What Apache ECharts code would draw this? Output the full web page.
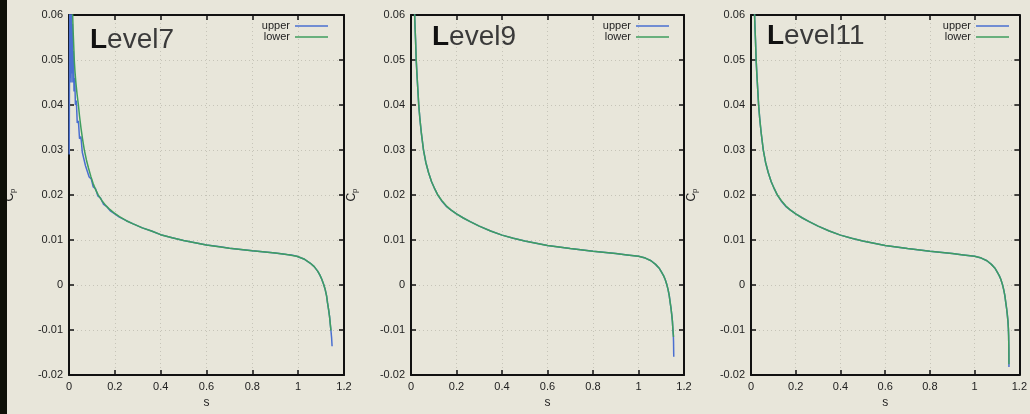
<!DOCTYPE html>
<html>
<head>
<meta charset="utf-8">
<script src="https://cdn.jsdelivr.net/npm/echarts@6/dist/echarts.min.js"></script>
<style>
  html, body { margin: 0; padding: 0; background: #e8e6da; }
  #strip { position: absolute; left: 0; top: 0; width: 7px; height: 414px; background: #0e1008; z-index: 2; }
  #chart { width: 1030px; height: 414px; }
</style>
</head>
<body>
<div id="strip"></div>
<div id="chart"></div>
<script>
// Pressure coefficient Cp along surface coordinate s, three refinement levels.
const panelNames = ['Level7', 'Level9', 'Level11'];
const xTicks = [0, 0.2, 0.4, 0.6, 0.8, 1, 1.2];
const yTicks = [-0.02, -0.01, 0, 0.01, 0.02, 0.03, 0.04, 0.05, 0.06];

const level7Upper = [
  [0.001, 0.029], [0.003, 0.062], [0.005, 0.046], [0.007, 0.065], [0.009, 0.045],
  [0.011, 0.062], [0.013, 0.047], [0.015, 0.058], [0.017, 0.045], [0.019, 0.052],
  [0.022, 0.043], [0.025, 0.046], [0.028, 0.040], [0.032, 0.041], [0.036, 0.036],
  [0.041, 0.0365], [0.046, 0.0325], [0.052, 0.0330], [0.058, 0.0295], [0.065, 0.0295],
  [0.072, 0.0265], [0.080, 0.0262], [0.088, 0.0240], [0.097, 0.0236], [0.106, 0.0218],
  [0.116, 0.0214], [0.126, 0.0198], [0.138, 0.0193], [0.150, 0.0180], [0.165, 0.0174],
  [0.180, 0.0165], [0.195, 0.0160], [0.22, 0.0151], [0.25, 0.0143], [0.28, 0.0136],
  [0.32, 0.0127], [0.36, 0.0120], [0.40, 0.0112], [0.45, 0.0105], [0.50, 0.0099],
  [0.55, 0.0094], [0.60, 0.0089], [0.66, 0.0085], [0.661, 0.0082], [0.70, 0.0082],
  [0.80, 0.0076], [0.90, 0.0071], [0.95, 0.0068], [0.97, 0.0067], [0.971, 0.0064],
  [0.994, 0.0064], [1.025, 0.0058], [1.052, 0.0049], [1.07, 0.0041], [1.085, 0.0031],
  [1.095, 0.0022], [1.103, 0.0013], [1.111, 0.0002], [1.118, -0.0010], [1.124, -0.0024],
  [1.128, -0.0039], [1.133, -0.0055], [1.137, -0.0070], [1.140, -0.0086],
  [1.143, -0.0101], [1.146, -0.0118], [1.148, -0.0136]
];
const level7Lower = [
  [0.010, 0.080], [0.016, 0.0600], [0.018, 0.0565], [0.020, 0.0540], [0.023, 0.0500],
  [0.026, 0.0475], [0.030, 0.0450], [0.035, 0.0425], [0.041, 0.0400], [0.046, 0.0375],
  [0.052, 0.0350], [0.059, 0.0325], [0.067, 0.0300], [0.076, 0.0278], [0.085, 0.0260],
  [0.095, 0.0242], [0.105, 0.0226], [0.116, 0.0212], [0.128, 0.0200], [0.143, 0.0188],
  [0.160, 0.0177], [0.178, 0.0168], [0.195, 0.0161], [0.22, 0.0152], [0.25, 0.0143],
  [0.28, 0.0136], [0.32, 0.0127], [0.36, 0.0120], [0.40, 0.0112], [0.45, 0.0105],
  [0.50, 0.0099], [0.55, 0.0094], [0.60, 0.0089], [0.70, 0.0082], [0.80, 0.0076],
  [0.90, 0.0071], [0.95, 0.0068], [0.994, 0.0064], [1.025, 0.0058], [1.052, 0.0049],
  [1.07, 0.0041], [1.085, 0.0031], [1.095, 0.0022], [1.103, 0.0013], [1.111, 0.0002],
  [1.118, -0.0010], [1.124, -0.0024], [1.128, -0.0039], [1.133, -0.0055],
  [1.137, -0.0070], [1.140, -0.0086], [1.143, -0.0101]
];
const level9Upper = [
  [0.010, 0.075], [0.016, 0.0600], [0.018, 0.0570], [0.020, 0.0545], [0.023, 0.0500],
  [0.026, 0.0470], [0.030, 0.0435], [0.034, 0.0400], [0.039, 0.0370], [0.045, 0.0340],
  [0.055, 0.0300], [0.065, 0.0273], [0.077, 0.0250], [0.090, 0.0230], [0.105, 0.0213],
  [0.118, 0.0200], [0.135, 0.0187], [0.155, 0.0175], [0.175, 0.0167], [0.200, 0.0158],
  [0.23, 0.0149], [0.26, 0.0141], [0.30, 0.0131], [0.35, 0.0120], [0.40, 0.0111],
  [0.45, 0.0104], [0.50, 0.0098], [0.55, 0.0093], [0.60, 0.0088], [0.70, 0.0081],
  [0.80, 0.0075], [0.90, 0.0070], [0.95, 0.0067], [1.00, 0.0064], [1.03, 0.0060],
  [1.055, 0.0054], [1.075, 0.0046], [1.09, 0.0038], [1.10, 0.0030], [1.11, 0.0021],
  [1.117, 0.0013], [1.124, 0.0002], [1.13, -0.0010], [1.135, -0.0023], [1.139, -0.0038],
  [1.143, -0.0052], [1.146, -0.0065], [1.149, -0.0080], [1.151, -0.0097],
  [1.153, -0.0110], [1.154, -0.0125], [1.155, -0.0159]
];
const level9Lower = [
  [0.010, 0.075], [0.016, 0.0600], [0.018, 0.0570], [0.020, 0.0545], [0.023, 0.0500],
  [0.026, 0.0470], [0.030, 0.0435], [0.034, 0.0400], [0.039, 0.0370], [0.045, 0.0340],
  [0.055, 0.0300], [0.065, 0.0273], [0.077, 0.0250], [0.090, 0.0230], [0.105, 0.0213],
  [0.118, 0.0200], [0.135, 0.0188], [0.155, 0.0176], [0.175, 0.0167], [0.200, 0.0158],
  [0.23, 0.0149], [0.26, 0.0141], [0.30, 0.0131], [0.35, 0.0120], [0.40, 0.0111],
  [0.45, 0.0104], [0.50, 0.0098], [0.55, 0.0093], [0.60, 0.0088], [0.70, 0.0081],
  [0.80, 0.0075], [0.90, 0.0070], [0.95, 0.0067], [1.00, 0.0064], [1.03, 0.0060],
  [1.055, 0.0054], [1.075, 0.0046], [1.09, 0.0038], [1.10, 0.0030], [1.11, 0.0021],
  [1.117, 0.0013], [1.124, 0.0002], [1.13, -0.0010], [1.135, -0.0023], [1.139, -0.0038],
  [1.143, -0.0052], [1.146, -0.0065], [1.149, -0.0080], [1.151, -0.0097],
  [1.153, -0.0110], [1.154, -0.0115]
];
const level11Upper = [
  [0.010, 0.075], [0.016, 0.0600], [0.018, 0.0570], [0.020, 0.0545], [0.023, 0.0500],
  [0.026, 0.0470], [0.030, 0.0435], [0.034, 0.0400], [0.039, 0.0370], [0.045, 0.0340],
  [0.055, 0.0300], [0.065, 0.0273], [0.077, 0.0250], [0.090, 0.0230], [0.105, 0.0213],
  [0.118, 0.0200], [0.135, 0.0187], [0.155, 0.0175], [0.175, 0.0167], [0.200, 0.0158],
  [0.23, 0.0149], [0.26, 0.0141], [0.30, 0.0131], [0.35, 0.0120], [0.40, 0.0111],
  [0.45, 0.0104], [0.50, 0.0098], [0.55, 0.0093], [0.60, 0.0088], [0.70, 0.0081],
  [0.80, 0.0075], [0.90, 0.0070], [0.95, 0.0067], [1.00, 0.0064], [1.03, 0.0060],
  [1.055, 0.0054], [1.075, 0.0046], [1.09, 0.0038], [1.10, 0.0030], [1.11, 0.0021],
  [1.117, 0.0013], [1.124, 0.0002], [1.13, -0.0010], [1.135, -0.0023], [1.139, -0.0038],
  [1.143, -0.0052], [1.146, -0.0065], [1.149, -0.0080], [1.151, -0.0097],
  [1.152, -0.0112], [1.153, -0.0140], [1.1535, -0.0182]
];
const level11Lower = [
  [0.010, 0.075], [0.016, 0.0600], [0.018, 0.0570], [0.020, 0.0545], [0.023, 0.0500],
  [0.026, 0.0470], [0.030, 0.0435], [0.034, 0.0400], [0.039, 0.0370], [0.045, 0.0340],
  [0.055, 0.0300], [0.065, 0.0273], [0.077, 0.0250], [0.090, 0.0230], [0.105, 0.0213],
  [0.118, 0.0200], [0.135, 0.0188], [0.155, 0.0176], [0.175, 0.0167], [0.200, 0.0158],
  [0.23, 0.0149], [0.26, 0.0141], [0.30, 0.0131], [0.35, 0.0120], [0.40, 0.0111],
  [0.45, 0.0104], [0.50, 0.0098], [0.55, 0.0093], [0.60, 0.0088], [0.70, 0.0081],
  [0.80, 0.0075], [0.90, 0.0070], [0.95, 0.0067], [1.00, 0.0064], [1.03, 0.0060],
  [1.055, 0.0054], [1.075, 0.0046], [1.09, 0.0038], [1.10, 0.0030], [1.11, 0.0021],
  [1.117, 0.0013], [1.124, 0.0002], [1.13, -0.0010], [1.135, -0.0023], [1.139, -0.0038],
  [1.143, -0.0052], [1.146, -0.0065], [1.149, -0.0080], [1.151, -0.0097],
  [1.152, -0.0112], [1.153, -0.0140], [1.1535, -0.0176]
];

const panelData = [
  [level7Upper, level7Lower],
  [level9Upper, level9Lower],
  [level11Upper, level11Lower]
];

const UPPER = '#4a6fd0';
const LOWER = '#3f9e5e';
const FONT = '"Liberation Sans", Arial, sans-serif';

// plot boxes in pixels: left, right edge
const boxes = [[69, 344], [411, 684], [751, 1023]];
const TOP = 15, BOTTOM = 380;
const titleTops = [26, 23, 22];
const titleLefts = [21, 21, 16];

const fmt = v => String(+v.toFixed(2));

const grids = [], xAxes = [], yAxes = [], series = [], legends = [], titles = [];

boxes.forEach((b, i) => {
  grids.push({ left: b[0], right: 1030 - b[1], top: TOP, bottom: 414 - BOTTOM, show: false });
  const axisLine = { show: true, onZero: false, lineStyle: { color: '#111', width: 2 } };
  const tick = { show: true, inside: true, length: 5, lineStyle: { color: '#111', width: 1.5 } };
  const xBase = { type: 'value', gridIndex: i, min: xTicks[0], max: xTicks[xTicks.length - 1], interval: 0.2 };
  const yBase = { type: 'value', gridIndex: i, min: yTicks[0], max: yTicks[yTicks.length - 1], interval: 0.01 };
  xAxes.push(Object.assign({}, xBase, {
    position: 'bottom', axisLine, axisTick: tick,
    axisLabel: { color: '#222', fontSize: 11, fontFamily: FONT, margin: 6, formatter: fmt },
    splitLine: { show: true, lineStyle: { color: '#c6c4b8', type: [1, 3], width: 1 } },
    name: 's', nameLocation: 'middle', nameGap: 21,
    nameTextStyle: { color: '#222', fontSize: 12, fontFamily: FONT }
  }));
  xAxes.push(Object.assign({}, xBase, {
    position: 'top', axisLine, axisTick: tick, axisLabel: { show: false }, splitLine: { show: false }
  }));
  yAxes.push(Object.assign({}, yBase, {
    position: 'left', axisLine, axisTick: tick,
    axisLabel: { color: '#222', fontSize: 11, fontFamily: FONT, margin: 6, formatter: fmt },
    splitLine: { show: true, lineStyle: { color: '#c6c4b8', type: [1, 3], width: 1 } },
    name: 'C{p|p}', nameLocation: 'middle', nameGap: 52, nameRotate: 90,
    nameTextStyle: {
      color: '#222', fontSize: 12, fontFamily: FONT,
      rich: { p: { fontSize: 8, fontFamily: FONT, color: '#222', padding: [7, 0, 0, 0] } }
    }
  }));
  yAxes.push(Object.assign({}, yBase, {
    position: 'right', axisLine, axisTick: tick, axisLabel: { show: false }, splitLine: { show: false }
  }));

  const [up, low] = panelData[i];
  series.push({
    name: 'upper', type: 'line', xAxisIndex: 2 * i, yAxisIndex: 2 * i,
    data: up, symbol: 'none', showSymbol: false, clip: true, color: UPPER,
    lineStyle: { color: UPPER, width: 1.5 }, z: 2
  });
  series.push({
    name: 'lower', type: 'line', xAxisIndex: 2 * i, yAxisIndex: 2 * i,
    data: low, symbol: 'none', showSymbol: false, clip: true, color: LOWER,
    lineStyle: { color: LOWER, width: 1.5 }, z: 3
  });

  legends.push({
    data: ['upper', 'lower'], orient: 'vertical', align: 'right',
    right: 1030 - (b[0] + (i === 0 ? 259 : 258)), top: 20.5, padding: 0,
    icon: 'rect', itemWidth: 33, itemHeight: 1.5, itemGap: 0, selectedMode: false,
    textStyle: { color: '#222', fontSize: 11, fontFamily: FONT, lineHeight: 11 }
  });

  titles.push({
    text: '{b|L}' + panelNames[i].slice(1),
    left: b[0] + titleLefts[i], top: titleTops[i], padding: 0,
    textStyle: {
      color: '#3a3a3a', fontSize: 28, fontWeight: 'normal', fontFamily: FONT, lineHeight: 28,
      rich: { b: { color: '#111', fontSize: 28, fontWeight: 'bold', fontFamily: FONT, lineHeight: 28 } }
    }
  });
});

const chart = echarts.init(document.getElementById('chart'), null, { renderer: 'canvas' });
chart.setOption({
  backgroundColor: '#e8e6da',
  animation: false,
  title: titles,
  legend: legends,
  grid: grids,
  xAxis: xAxes,
  yAxis: yAxes,
  series: series
});
</script>
</body>
</html>
